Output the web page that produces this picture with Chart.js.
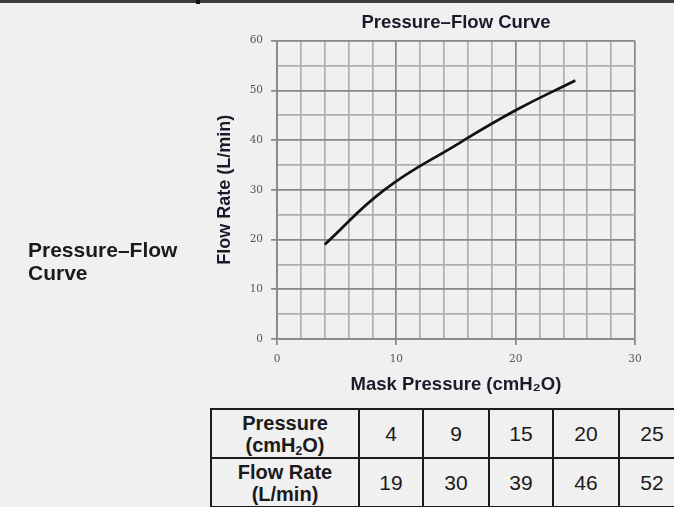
<!DOCTYPE html>
<html>
<head>
<meta charset="utf-8">
<script src="https://cdn.jsdelivr.net/npm/chart.js@4.4.1/dist/chart.umd.min.js"></script>
<style>
  html, body { margin: 0; padding: 0; background: #f0f0f0; }
  body { width: 674px; height: 507px; overflow: hidden; position: relative; font-family: "Liberation Sans", Arial, sans-serif; }
  #topband { position: absolute; left: 0; top: 0; width: 674px; height: 3px; background: #3c3c3c; }
  #topmark { position: absolute; left: 196px; top: 0; width: 4px; height: 4px; background: #111; }
  #chartbox { position: absolute; left: 0; top: 0; width: 674px; height: 400px; }
  #sideLabel { position: absolute; left: 28px; top: 238px; font-weight: bold; font-size: 21px; line-height: 23px; color: #1a1a1a; }
  .cell { position: absolute; display: flex; align-items: center; justify-content: center; text-align: center; color: #1a1a1a; }
  .hdr { font-weight: bold; font-size: 20px; line-height: 22px; }
  .val { font-size: 21px; }
  .hline, .vline { position: absolute; background: #1c1c1c; }
  sub { font-size: 0.6em; line-height: 0; vertical-align: -0.25em; }
</style>
</head>
<body>
<div id="topband"></div>
<div id="topmark"></div>
<div id="chartbox"><canvas id="c" width="674" height="400"></canvas></div>
<div id="sideLabel">Pressure–Flow<br>Curve</div>
<div id="tableBox"></div>
<script>
// ---- data ----
const pressures = [4, 9, 15, 20, 25];          // cmH2O
const flowRates = [19, 30, 39, 46, 52];        // L/min
const xTickLabels = ['0', '10', '20', '30'];
const yTickLabels = ['0', '10', '20', '30', '40', '50', '60'];
const rowHeaders = ['Pressure<br>(cmH<sub>2</sub>O)', 'Flow Rate<br>(L/min)'];
const chartTitle = 'Pressure–Flow Curve';
const xTitle = 'Mask Pressure (cmH₂O)';
const yTitle = 'Flow Rate (L/min)';

// ---- table (layout) ----
const colEdges = [211, 359, 423, 489, 553, 619, 685];
const rowEdges = [409, 458, 507];
const box = document.getElementById('tableBox');
const rows = [pressures, flowRates];
rows.forEach((vals, r) => {
  const cells = [rowHeaders[r]].concat(vals.map(String));
  cells.forEach((txt, c) => {
    const d = document.createElement('div');
    d.className = 'cell ' + (c === 0 ? 'hdr' : 'val');
    d.style.left = colEdges[c] + 'px';
    d.style.top = rowEdges[r] + 'px';
    d.style.width = (colEdges[c + 1] - colEdges[c]) + 'px';
    d.style.height = (rowEdges[r + 1] - rowEdges[r]) + 'px';
    if (c === 0) d.innerHTML = '<div>' + txt + '</div>'; else d.textContent = txt;
    box.appendChild(d);
  });
});
rowEdges.forEach(y => {
  const l = document.createElement('div');
  l.className = 'hline';
  l.style.left = (colEdges[0] - 1) + 'px';
  l.style.top = (y - 1) + 'px';
  l.style.width = (colEdges[colEdges.length - 1] - colEdges[0] + 2) + 'px';
  l.style.height = '2px';
  box.appendChild(l);
});
colEdges.forEach(x => {
  const l = document.createElement('div');
  l.className = 'vline';
  l.style.left = (x - 1) + 'px';
  l.style.top = (rowEdges[0] - 1) + 'px';
  l.style.width = '2px';
  l.style.height = (rowEdges[rowEdges.length - 1] - rowEdges[0] + 2) + 'px';
  box.appendChild(l);
});

// ---- chart ----
const pts = pressures.map((p, i) => ({ x: p, y: flowRates[i] }));
const majorX = v => xTickLabels.includes(String(v));
const majorY = v => yTickLabels.includes(String(v));
const sans = '"Liberation Sans", Arial, sans-serif';

new Chart(document.getElementById('c'), {
  type: 'line',
  data: {
    datasets: [{
      data: pts,
      borderColor: '#111',
      borderWidth: 2.7,
      pointRadius: 0,
      tension: 0.45,
      fill: false
    }]
  },
  options: {
    responsive: false,
    animation: false,
    layout: { padding: { left: 200, right: 39, top: 0.5, bottom: 0 } },
    plugins: {
      legend: { display: false },
      tooltip: { enabled: false },
      title: {
        display: true,
        fullSize: false,
        text: chartTitle,
        color: '#1a1a2a',
        font: { family: sans, size: 18.5, weight: 'bold' },
        padding: { top: 11, bottom: 7 }
      }
    },
    scales: {
      x: {
        type: 'linear',
        min: 0, max: 30,
        afterFit: s => { s.height = 61; },
        ticks: {
          stepSize: 2,
          autoSkip: false,
          maxRotation: 0,
          padding: 8,
          color: '#555',
          font: { family: '"DejaVu Serif", serif', size: 10.5 },
          callback: v => majorX(v) ? String(v) : ''
        },
        grid: {
          color: c => majorX(c.tick && c.tick.value) ? '#878787' : '#afafaf',
          lineWidth: 1.7,
          tickLength: 6,
          tickColor: c => majorX(c.tick && c.tick.value) ? '#878787' : 'rgba(0,0,0,0)'
        },
        border: { display: true, color: '#878787', width: 1.7 },
        title: {
          display: true,
          text: xTitle,
          color: '#1a1a2a',
          font: { family: sans, size: 18.5, weight: 'bold' },
          padding: { top: 0, bottom: 4 }
        }
      },
      y: {
        type: 'linear',
        min: 0, max: 60,
        afterFit: s => { s.width = 77; },
        ticks: {
          stepSize: 5,
          autoSkip: false,
          padding: 8,
          color: '#555',
          font: { family: '"DejaVu Serif", serif', size: 10.5 },
          callback: v => majorY(v) ? String(v) : ''
        },
        grid: {
          color: c => majorY(c.tick && c.tick.value) ? '#878787' : '#afafaf',
          lineWidth: 1.7,
          tickLength: 6,
          tickColor: c => majorY(c.tick && c.tick.value) ? '#878787' : 'rgba(0,0,0,0)'
        },
        border: { display: true, color: '#878787', width: 1.7 },
        title: {
          display: true,
          text: yTitle,
          color: '#1a1a2a',
          font: { family: sans, size: 18, weight: 'bold' },
          padding: { top: 14, bottom: 0 }
        }
      }
    }
  }
});
</script>
</body>
</html>
